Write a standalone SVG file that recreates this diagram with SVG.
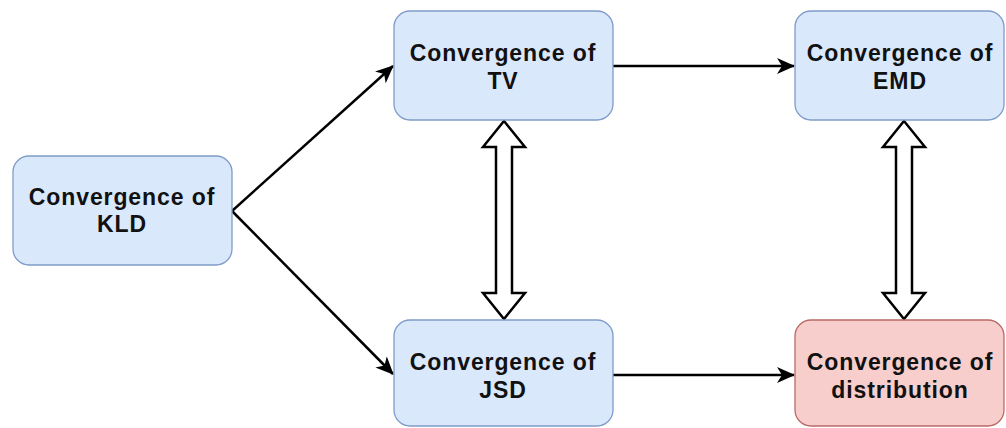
<svg xmlns="http://www.w3.org/2000/svg" width="1006" height="428" viewBox="0 0 1006 428">
<style>
.blue{fill:#dae8fc;stroke:#7f9cc8;stroke-width:1.3}
.red{fill:#f8cecc;stroke:#b86a66;stroke-width:1.3}
.t{font-family:"Liberation Sans",Arial,sans-serif;font-weight:bold;font-size:23px;letter-spacing:0.9px;fill:#111;text-anchor:middle}
.e{fill:none;stroke:#000;stroke-width:2.5}
.d{fill:#fff;stroke:#000;stroke-width:2.5;stroke-linejoin:miter}
</style>
<defs>
<marker id="a" markerUnits="userSpaceOnUse" viewBox="0 0 18 16" markerWidth="18" markerHeight="16" refX="17" refY="8" orient="auto">
<path d="M0,0 L18,8 L0,16 L5,8 Z" fill="#000"/>
</marker>
</defs>
<rect width="1006" height="428" fill="#fff"/>
<g id="connectors">
<line class="e" x1="232" y1="211" x2="393" y2="66" marker-end="url(#a)"/>
<line class="e" x1="232" y1="211" x2="393" y2="374" marker-end="url(#a)"/>
<line class="e" x1="613" y1="66" x2="794" y2="66" marker-end="url(#a)"/>
<line class="e" x1="613" y1="375" x2="794" y2="375" marker-end="url(#a)"/>
<polygon class="d" points="504,121 525,147 512,147 512,293 525,293 504,319 483,293 496,293 496,147 483,147"/>
<polygon class="d" points="904,121 925,147 912,147 912,293 925,293 904,319 883,293 896,293 896,147 883,147"/>
</g>
<g id="kld">
<rect class="blue" x="13" y="156" width="219" height="109" rx="16"/>
<text class="t" x="122" y="205">Convergence of</text>
<text class="t" x="122" y="232">KLD</text>
</g>
<g id="tv">
<rect class="blue" x="394" y="11" width="219" height="109" rx="16"/>
<text class="t" x="503" y="61">Convergence of</text>
<text class="t" x="503" y="89">TV</text>
</g>
<g id="emd">
<rect class="blue" x="795" y="11" width="209" height="109" rx="16"/>
<text class="t" x="900" y="61">Convergence of</text>
<text class="t" x="900" y="89">EMD</text>
</g>
<g id="jsd">
<rect class="blue" x="394" y="320" width="219" height="106" rx="16"/>
<text class="t" x="503" y="370">Convergence of</text>
<text class="t" x="503" y="398">JSD</text>
</g>
<g id="dist">
<rect class="red" x="795" y="320" width="209" height="106" rx="16"/>
<text class="t" x="900" y="370">Convergence of</text>
<text class="t" x="900" y="398">distribution</text>
</g>
</svg>
